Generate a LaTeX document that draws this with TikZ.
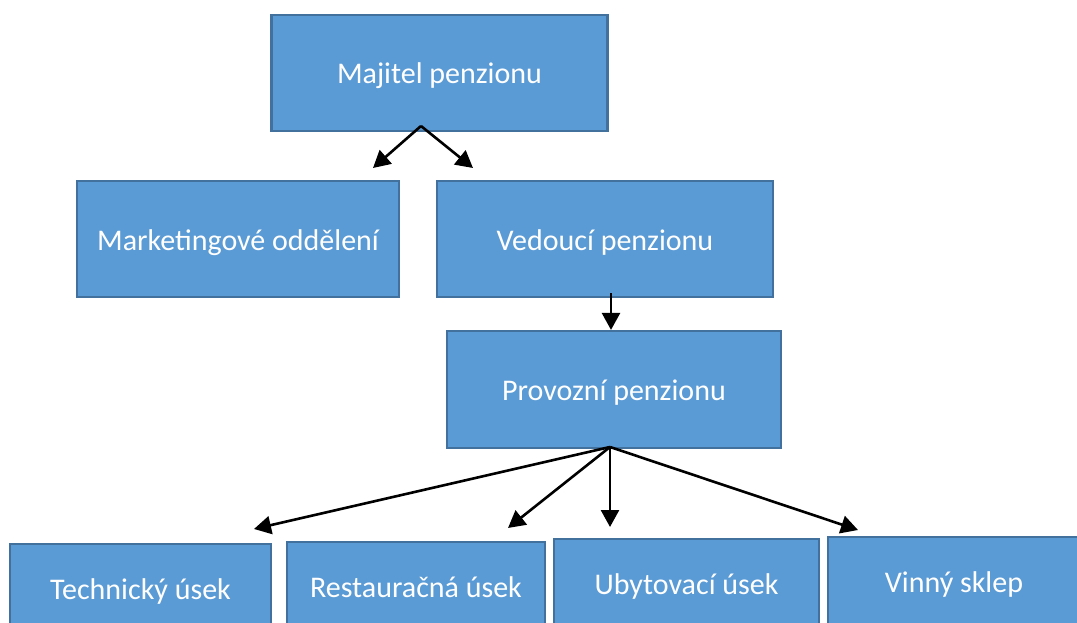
\documentclass[tikz,border=0pt]{standalone}
\usepackage{fontspec}
\setmainfont{Carlito}
\usetikzlibrary{arrows.meta}
\definecolor{UnitBlue}{HTML}{5B9BD5}
\definecolor{UnitEdge}{HTML}{41719C}
\begin{document}
\begin{tikzpicture}[
        x=1pt,y=-1pt,
        unit/.style={
            draw=UnitEdge,
            fill=UnitBlue,
            text=white,
            line width=2.2pt,
            inner sep=0pt,
            text height=25pt,
            text depth=3pt,
            font=\fontsize{30}{36}\selectfont
        },
        top/.style={unit, minimum width=336pt, minimum height=116pt},
        section/.style={unit, minimum height=88pt},
        link/.style={
            -{Triangle[length=17pt,width=18pt]},
            line width=2.6pt,
            draw=black
        }
    ]
        \useasboundingbox (0,0) rectangle (1077,623);
        \clip (0,0) rectangle (1077,623);
        \node[top] (owner) at (439.5,73) {Majitel penzionu};
        \node[top, minimum width=322pt] (marketing) at (238,239)
            {Marketingové oddělení};
        \node[top] (manager) at (605,239) {Vedoucí penzionu};
        \node[top, minimum width=334pt, minimum height=117pt] (operations)
            at (614,389.5) {Provozní penzionu};
        \node[section, minimum width=261pt] (technical) at (140.5,588)
            {Technický úsek};
        \node[section, minimum width=258pt] (restaurant) at (416,586)
            {Restauračná úsek};
        \node[section, minimum width=265pt] (lodging) at (686.5,583)
            {Ubytovací úsek};
        \node[section, minimum width=252pt] (cellar) at (954,581)
            {Vinný sklep};

        \coordinate (ownerfork) at (421,126);
        \coordinate (managerfoot) at (611,293);
        \coordinate (opsfork) at (610,447);
        \draw[link] (ownerfork) -- (373,168);
        \draw[link] (ownerfork) -- (473,168);
        \draw[link] (managerfoot) -- (managerfoot |- operations.north);
        \draw[link] (opsfork) -- (254,529);
        \draw[link] (opsfork) -- (508,528);
        \draw[link] (opsfork) -- (610,527);
        \draw[link] (opsfork) -- (858,530);
    \end{tikzpicture}
\end{document}
